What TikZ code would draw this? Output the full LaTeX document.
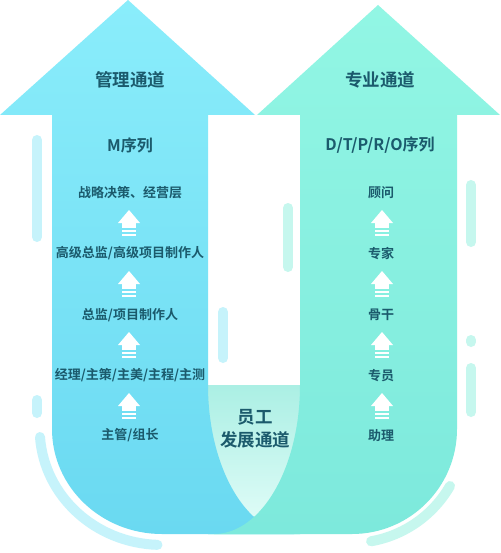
\documentclass[tikz,border=0pt]{standalone}
\usepackage{fontspec}
\setmainfont{Noto Sans CJK SC}[BoldFont={Noto Sans CJK SC Bold}]
\definecolor{mgmtTop}{HTML}{8AEDFB}
\definecolor{mgmtBot}{HTML}{6AD9F1}
\definecolor{profTop}{HTML}{92F6E4}
\definecolor{profBot}{HTML}{7DE9DC}
\definecolor{shieldTop}{HTML}{ABEFE4}
\definecolor{shieldBot}{HTML}{E4FDF9}
\definecolor{decoBlue}{HTML}{C6F3FB}
\definecolor{decoMint}{HTML}{C6F7EE}
\definecolor{txt}{HTML}{1B5A6C}
\tikzset{
  title/.style={font=\fontsize{17.5}{22.5}\selectfont\bfseries, text=txt, inner sep=0pt, align=center},
  series/.style={font=\fontsize{16}{19}\selectfont\bfseries, text=txt, inner sep=0pt},
  level/.style={font=\fontsize{13}{15}\selectfont\bfseries, text=txt, inner sep=0pt},
  deco/.style={line width=10pt, line cap=round},
  upicon/.pic={
    \fill[white] (-11,0.5) -- (0,-12.5) -- (11,0.5) -- cycle;
    \fill[white] (-7,0.5) rectangle (7,5.2);
    \fill[white] (-7,7.2) rectangle (7,9.2);
    \fill[white] (-7,11.2) rectangle (7,13.2);
  }
}
\begin{document}
\begin{tikzpicture}[x=1pt,y=-1pt]
  \useasboundingbox[fill=white] (0,0) rectangle (500,553);
  % decorations
  \draw[deco,decoBlue] (37,140) -- (37,237);
  \draw[deco,decoBlue] (37,400) -- (37,413);
  \draw[deco,decoBlue] (223,312) -- (223,358);
  \draw[deco,decoBlue] (40,437) arc[start angle=176,end angle=92,x radius=122,y radius=116];
  \draw[deco,decoMint] (288,208) -- (288,267);
  \draw[deco,decoMint] (471,185) -- (471,242);
  \draw[deco,decoMint] (471,340) -- (471,342);
  \draw[deco,decoMint] (471,368) -- (471,412);
  \draw[deco,decoMint] (450,486) arc[start angle=30,end angle=80,x radius=114,y radius=114];
  % shapes
  \shade[top color=shieldTop,bottom color=shieldBot] (208,385) rectangle (300,534);
  \shade[top color=mgmtTop,bottom color=mgmtBot]
    (0,115) -- (128,0) -- (255,115) -- (208,115) -- (208,385)
    arc[start angle=180,end angle=90,x radius=86,y radius=149]
    -- (162,534) arc[start angle=90,end angle=180,x radius=110,y radius=105]
    -- (52,115) -- cycle;
  \shade[top color=profTop,bottom color=profBot]
    (257,115) -- (378,5) -- (500,115) -- (457,115) -- (457,429)
    arc[start angle=0,end angle=90,x radius=105,y radius=105]
    -- (214,534) arc[start angle=90,end angle=0,x radius=86,y radius=149]
    -- (300,115) -- cycle;
  % labels
  \node[title] (mgmt) at (130,79.5) {管理通道};
  \node[title] (prof) at (380,79.5) {专业通道};
  \node[series] (mseq) at (130,145) {M序列};
  \node[series] (pseq) at (380,145) {D/T/P/R/O序列};
  \node[level] (m5) at (130,193) {战略决策、经营层};
  \node[level] (m4) at (130,253.5) {高级总监/高级项目制作人};
  \node[level] (m3) at (130,315) {总监/项目制作人};
  \node[level] (m2) at (130,375.5) {经理/主策/主美/主程/主测};
  \node[level] (m1) at (130,435.5) {主管/组长};
  \node[level] (p5) at (381,193) {顾问};
  \node[level] (p4) at (381,253.5) {专家};
  \node[level] (p3) at (381,315) {骨干};
  \node[level] (p2) at (381,375.5) {专员};
  \node[level] (p1) at (381,435.5) {助理};
  \node[title] (staff) at (255,429) {员工\\发展通道};
  % steps
  \pic at (129,222.5) {upicon};
  \pic at (129,283.5) {upicon};
  \pic at (129,344.5) {upicon};
  \pic at (129,405.5) {upicon};
  \pic at (382,222.5) {upicon};
  \pic at (382,283.5) {upicon};
  \pic at (382,344.5) {upicon};
  \pic at (382,405.5) {upicon};
\end{tikzpicture}
\end{document}
